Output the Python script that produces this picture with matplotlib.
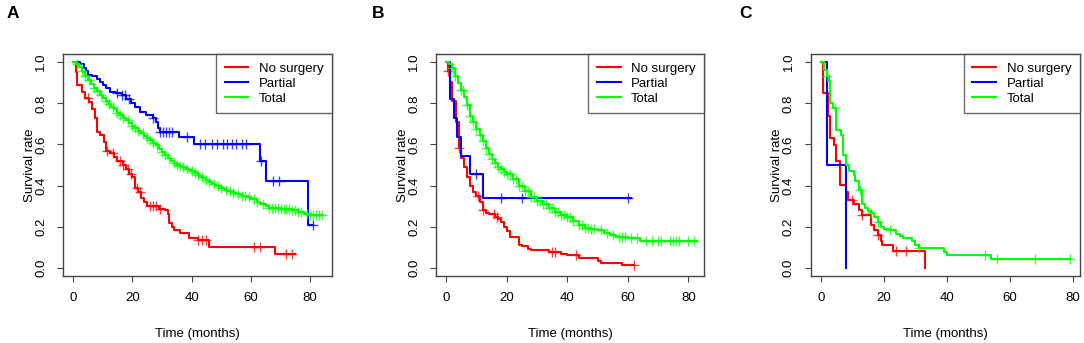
import numpy as np
import matplotlib
matplotlib.use('Agg')
import matplotlib.pyplot as plt

plt.rcParams['font.family'] = ['Liberation Sans', 'DejaVu Sans']

groups = ['No surgery', 'Partial', 'Total']
cols   = ['#FF0000', '#0000FF', '#00FF00']

#### Panel A  (step times, survival after the step, end of follow up, censor times)
a_red_t  = [1, 1.5, 3, 4, 5.5, 6.5, 7.5, 8, 9, 10.5, 11, 12.5, 14, 15, 17, 18, 19, 20, 21, 22, 23, 24, 25, 29, 31, 32, 32.5, 33.5, 34, 36, 39, 42, 46, 68]
a_red_s  = [0.95, 0.89, 0.855, 0.825, 0.805, 0.77, 0.73, 0.66, 0.645, 0.61, 0.57, 0.56, 0.54, 0.52, 0.50, 0.48, 0.455, 0.44, 0.39, 0.37, 0.34, 0.32, 0.30, 0.285, 0.28, 0.26, 0.22, 0.20, 0.185, 0.17, 0.145, 0.135, 0.10, 0.065]
a_red_end = 75
a_red_c  = [5, 11.5, 13.5, 16, 17, 18.5, 19.5, 21.5, 22.5, 26, 27, 28, 29.5, 42, 43.5, 45, 61, 63, 72, 74]

a_blue_t = [2.5, 3.6, 4.5, 5.2, 6.4, 8, 9.1, 10.3, 11.1, 12.5, 14.5, 16.4, 18, 19.7, 20.8, 22.5, 24.7, 27, 28, 28.6, 29.2, 35.9, 40.9, 63, 65, 79.3]
a_blue_s = [0.99, 0.97, 0.955, 0.94, 0.935, 0.92, 0.905, 0.89, 0.875, 0.855, 0.85, 0.84, 0.82, 0.80, 0.78, 0.76, 0.745, 0.73, 0.71, 0.68, 0.66, 0.635, 0.60, 0.52, 0.42, 0.21]
a_blue_end = 81
a_blue_c = [15, 16.5, 17.5, 19, 27, 29.5, 30.5, 31.5, 32.5, 33.5, 38.5, 43, 44.5, 47, 48.5, 50.5, 52, 53.5, 55, 57, 58.5, 63.5, 67.5, 69.5, 81]

a_grn_t  = [1, 2, 3, 4, 5, 6, 7, 8, 9, 10, 11, 12, 13, 14, 15, 16, 17, 18, 19, 20, 21, 22, 23, 24, 25, 26, 27, 28, 29, 30, 31, 32, 33, 34, 35, 36, 37, 38, 39, 40, 41, 42, 43, 44, 45, 46, 47, 48, 50, 51, 52, 54, 55, 57, 59, 60, 62, 63, 65, 66, 70, 74, 76, 78, 80]
a_grn_s  = [0.99, 0.975, 0.955, 0.935, 0.915, 0.895, 0.875, 0.86, 0.84, 0.825, 0.81, 0.795, 0.78, 0.77, 0.755, 0.745, 0.73, 0.72, 0.705, 0.69, 0.68, 0.665, 0.655, 0.64, 0.63, 0.62, 0.605, 0.595, 0.58, 0.565, 0.55, 0.535, 0.52, 0.51, 0.50, 0.495, 0.49, 0.48, 0.475, 0.47, 0.46, 0.45, 0.44, 0.435, 0.425, 0.415, 0.41, 0.40, 0.39, 0.38, 0.375, 0.365, 0.36, 0.35, 0.345, 0.335, 0.32, 0.31, 0.30, 0.29, 0.285, 0.28, 0.27, 0.26, 0.255]
a_grn_end = 84
a_grn_c  = [1.5, 3, 4, 5.5, 7, 8, 9.5, 11, 12, 13.5, 15, 16, 17, 18.5, 20, 21, 22, 23.5, 25, 26, 27, 28.5, 30, 31, 32.5, 34, 35, 36, 37, 38.5, 40, 41, 42, 43.5, 45, 46, 47.5, 49, 50, 51.5, 53, 54, 55.5, 57, 58, 59.5, 61, 62, 64, 66, 67, 68, 69, 70, 71, 72, 73, 74, 75, 76, 77, 79, 80, 81, 82, 83, 84]

#### Panel B
b_red_t  = [0.5, 1.2, 2, 3.2, 4.3, 5, 6, 7, 8, 9, 10, 11, 12, 13, 14, 16, 17, 18, 19, 20, 21, 24, 25, 27, 28, 34, 38, 40, 44, 50, 51, 58]
b_red_s  = [0.955, 0.905, 0.81, 0.71, 0.585, 0.535, 0.49, 0.44, 0.40, 0.37, 0.35, 0.32, 0.28, 0.265, 0.26, 0.245, 0.235, 0.225, 0.20, 0.18, 0.15, 0.11, 0.105, 0.09, 0.085, 0.075, 0.068, 0.06, 0.05, 0.035, 0.025, 0.012]
b_red_end = 62
b_red_c  = [0.7, 4.3, 10.4, 12, 15.8, 16.9, 35.1, 36, 43, 62]

b_blue_t = [1.3, 2.5, 3.5, 4.8, 8, 12]
b_blue_s = [0.82, 0.73, 0.635, 0.545, 0.455, 0.34]
b_blue_end = 61
b_blue_c = [10, 18, 25, 60]

b_grn_t  = [1, 2, 3, 4, 5, 6, 7, 8, 9, 10, 11, 12, 13, 14, 15, 16, 17, 18, 19, 20, 22, 24, 26, 28, 30, 32, 34, 36, 38, 40, 42, 44, 46, 48, 50, 52, 54, 56, 60, 64]
b_grn_s  = [0.99, 0.97, 0.935, 0.90, 0.865, 0.83, 0.79, 0.74, 0.71, 0.675, 0.645, 0.615, 0.585, 0.555, 0.53, 0.51, 0.49, 0.48, 0.465, 0.455, 0.43, 0.40, 0.375, 0.345, 0.325, 0.31, 0.29, 0.27, 0.255, 0.245, 0.23, 0.21, 0.195, 0.19, 0.185, 0.17, 0.16, 0.15, 0.145, 0.13]
b_grn_end = 83
b_grn_c  = [2, 3, 5, 5.5, 7, 8, 9, 10, 11, 12, 13, 14, 15, 16, 17, 18, 19, 20, 21, 22, 23, 24, 25, 26, 27, 28, 29, 30, 31, 32, 33, 34, 35, 36, 37, 38, 39, 40, 41, 42, 44, 45, 46, 47, 48, 49, 51, 53, 55, 57, 58, 59, 61, 63, 66, 68, 70, 71, 74, 75, 76, 77, 80, 82]

#### Panel C
c_red_t  = [0.85, 2.3, 3.1, 4.1, 4.8, 6, 8, 8.7, 10.5, 12, 13, 16, 17, 18, 19, 19.5, 23, 33]
c_red_s  = [0.85, 0.74, 0.63, 0.595, 0.52, 0.405, 0.37, 0.33, 0.31, 0.28, 0.255, 0.21, 0.185, 0.16, 0.13, 0.11, 0.083, 0.0]
c_red_end = 33
c_red_c  = [10, 13, 18, 24, 27]

c_blue_t = [2, 8]
c_blue_s = [0.5, 0.0]
c_blue_end = 8
c_blue_c = []

c_grn_t  = [1, 2, 2.5, 3, 4, 4.8, 5, 6.5, 7, 8, 9, 10.5, 11, 12, 13, 14, 15, 16, 17, 18, 19, 20, 22, 24, 25, 26, 29, 30, 31, 39, 40, 54]
c_grn_s  = [0.96, 0.935, 0.91, 0.80, 0.775, 0.745, 0.67, 0.645, 0.55, 0.50, 0.47, 0.45, 0.42, 0.38, 0.31, 0.29, 0.275, 0.265, 0.245, 0.225, 0.20, 0.19, 0.185, 0.165, 0.155, 0.145, 0.13, 0.11, 0.095, 0.075, 0.06, 0.045]
c_grn_end = 79
c_grn_c  = [2, 4.5, 12.5, 16, 18, 22, 31, 52, 56, 68, 79]


def km_line(ax, t, s, t_end, cens, col):
    # step curve, starts at 1 at time 0
    tt = np.r_[0, t, t_end]
    ss = np.r_[1, s, s[-1]]
    ax.step(tt, ss, where='post', color=col, lw=1.5, label=None)
    if len(cens) > 0:
        cens = np.array(cens)
        idx  = np.searchsorted(np.array(t), cens, side='right')
        cv   = np.r_[1, s][idx]
        ax.plot(cens, cv, '+', color=col, ms=6.5, mew=1.0, alpha=0.75)


def panel(ax, data, xmax, letter, lx):
    for (t, s, e, c), col, g in zip(data, cols, groups):
        km_line(ax, t, s, e, c, col)
        ax.plot([], [], color=col, lw=1.5, label=g)
    ax.set_xlim(-0.04 * xmax, xmax * 1.04)
    ax.set_ylim(-0.04, 1.04)
    ax.set_xticks([0, 20, 40, 60, 80])
    ax.set_yticks([0, 0.2, 0.4, 0.6, 0.8, 1.0])
    ax.set_yticklabels(['0.0', '0.2', '0.4', '0.6', '0.8', '1.0'], rotation=90, va='center')
    ax.tick_params(direction='out', length=4.5, width=0.8, pad=7, labelsize=9.5, color='#444444')
    for sp in ax.spines.values():
        sp.set_color('#444444')
        sp.set_linewidth(1.0)
    ax.set_ylabel('Survival rate', fontsize=9.5)
    ax.set_xlabel('Time (months)', fontsize=9.5)
    ax.yaxis.set_label_coords(-0.102, 0.5)
    ax.xaxis.set_label_coords(0.5, -0.232)
    leg = ax.legend(loc='upper right', bbox_to_anchor=(1, 1), borderaxespad=0, fancybox=False,
                    fontsize=9.5, handlelength=1.8, handletextpad=0.8, labelspacing=0.2, borderpad=0.65)
    leg.get_frame().set_edgecolor('#444444')
    leg.get_frame().set_linewidth(1.0)
    fig.text(lx / 1084, 1 - 13 / 343, letter, fontsize=12.5, fontweight='bold', ha='center', va='center')


fig = plt.figure(figsize=(10.84, 3.43), dpi=100, facecolor='w')
axA = fig.add_axes([0.0581, 0.1953, 0.2482, 0.6473])
axB = fig.add_axes([0.4025, 0.1953, 0.2472, 0.6473])
axC = fig.add_axes([0.7479, 0.1953, 0.2484, 0.6473])

panel(axA, [(a_red_t, a_red_s, a_red_end, a_red_c), (a_blue_t, a_blue_s, a_blue_end, a_blue_c),
            (a_grn_t, a_grn_s, a_grn_end, a_grn_c)], 84, 'A', 13)
panel(axB, [(b_red_t, b_red_s, b_red_end, b_red_c), (b_blue_t, b_blue_s, b_blue_end, b_blue_c),
            (b_grn_t, b_grn_s, b_grn_end, b_grn_c)], 82, 'B', 378)
panel(axC, [(c_red_t, c_red_s, c_red_end, c_red_c), (c_blue_t, c_blue_s, c_blue_end, c_blue_c),
            (c_grn_t, c_grn_s, c_grn_end, c_grn_c)], 79, 'C', 745)

plt.savefig('out.png', dpi=100)
